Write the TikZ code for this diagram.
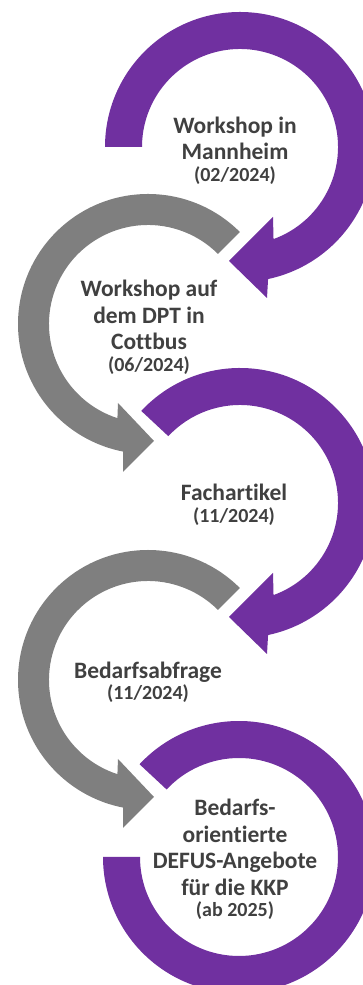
\documentclass[tikz,border=0pt]{standalone}
\usepackage{fontspec}
\setmainfont{Carlito}[Ligatures=NoCommon]
\definecolor{defuslila}{HTML}{7030A0}
\definecolor{defusgrau}{HTML}{7F7F7F}
\definecolor{textgrau}{HTML}{404040}
\tikzstyle{bogenlila} = [fill=defuslila]
\tikzstyle{bogengrau} = [fill=defusgrau]
\tikzstyle{stufe} = [align=center, text=textgrau, inner sep=0pt, font=\bfseries\fontsize{23.5}{26.5}\selectfont]
\newcommand{\datum}[1]{{\fontsize{20}{21}\selectfont #1}}

\begin{document}
\begin{tikzpicture}[x=1pt, y=1pt]
    \useasboundingbox (0,0) rectangle (363,985);
    \clip (0,0) rectangle (363,985);

    % Workshop in Mannheim
    \begin{scope}[shift={(240,838)}]
        \fill[bogenlila] (180:135) arc[start angle=180, end angle=-78, radius=135] -- (27,-151) -- (-11,-114) -- (33,-70) -- (-70:98) arc[start angle=-70, end angle=180, radius=98] -- cycle;
        \node [stufe] (mannheim) at (-5,-3.6) {Workshop in\\Mannheim\\[-5pt]\datum{(02/2024)}};
    \end{scope}

    % Workshop DPT Cottbus
    \begin{scope}[shift={(148,661)}]
        \fill[bogengrau] (45:130) arc[start angle=45, end angle=259, radius=130] -- (-25,-148) -- (6,-117) -- (-30,-79) -- (252:99) arc[start angle=252, end angle=45, radius=99] -- cycle;
        \node [stufe] (cottbus) at (1,-3.3) {Workshop auf\\dem DPT in\\Cottbus\\[-5pt]\datum{(06/2024)}};
    \end{scope}

    % Fachartikel
    \begin{scope}[shift={(240,482)}]
        \fill[bogenlila] (137:135) arc[start angle=137, end angle=-78, radius=135] -- (27,-151) -- (-11,-114) -- (33,-70) -- (-70:98) arc[start angle=-70, end angle=137, radius=98] -- cycle;
        \node [stufe] (artikel) at (-6,-2) {Fachartikel\\[-5pt]\datum{(11/2024)}};
    \end{scope}

    % Bedarfsabfrage
    \begin{scope}[shift={(148,305)}]
        \fill[bogengrau] (45:130) arc[start angle=45, end angle=259, radius=130] -- (-25,-148) -- (6,-117) -- (-30,-79) -- (252:99) arc[start angle=252, end angle=45, radius=99] -- cycle;
        \node [stufe] (abfrage) at (0,-2.5) {Bedarfsabfrage\\[-5pt]\datum{(11/2024)}};
    \end{scope}

    % Angebote
    \begin{scope}[shift={(239,128)}]
        \fill[bogenlila] (137:136) arc[start angle=137, end angle=-180, radius=136] -- (-180:99) arc[start angle=-180, end angle=137, radius=99] -- cycle;
        \node [stufe] (angebote) at (-4,-2.4) {Bedarfs-\\orientierte\\DEFUS-Angebote\\für die KKP\\[-5pt]\datum{(ab 2025)}};
    \end{scope}
\end{tikzpicture}
\end{document}
